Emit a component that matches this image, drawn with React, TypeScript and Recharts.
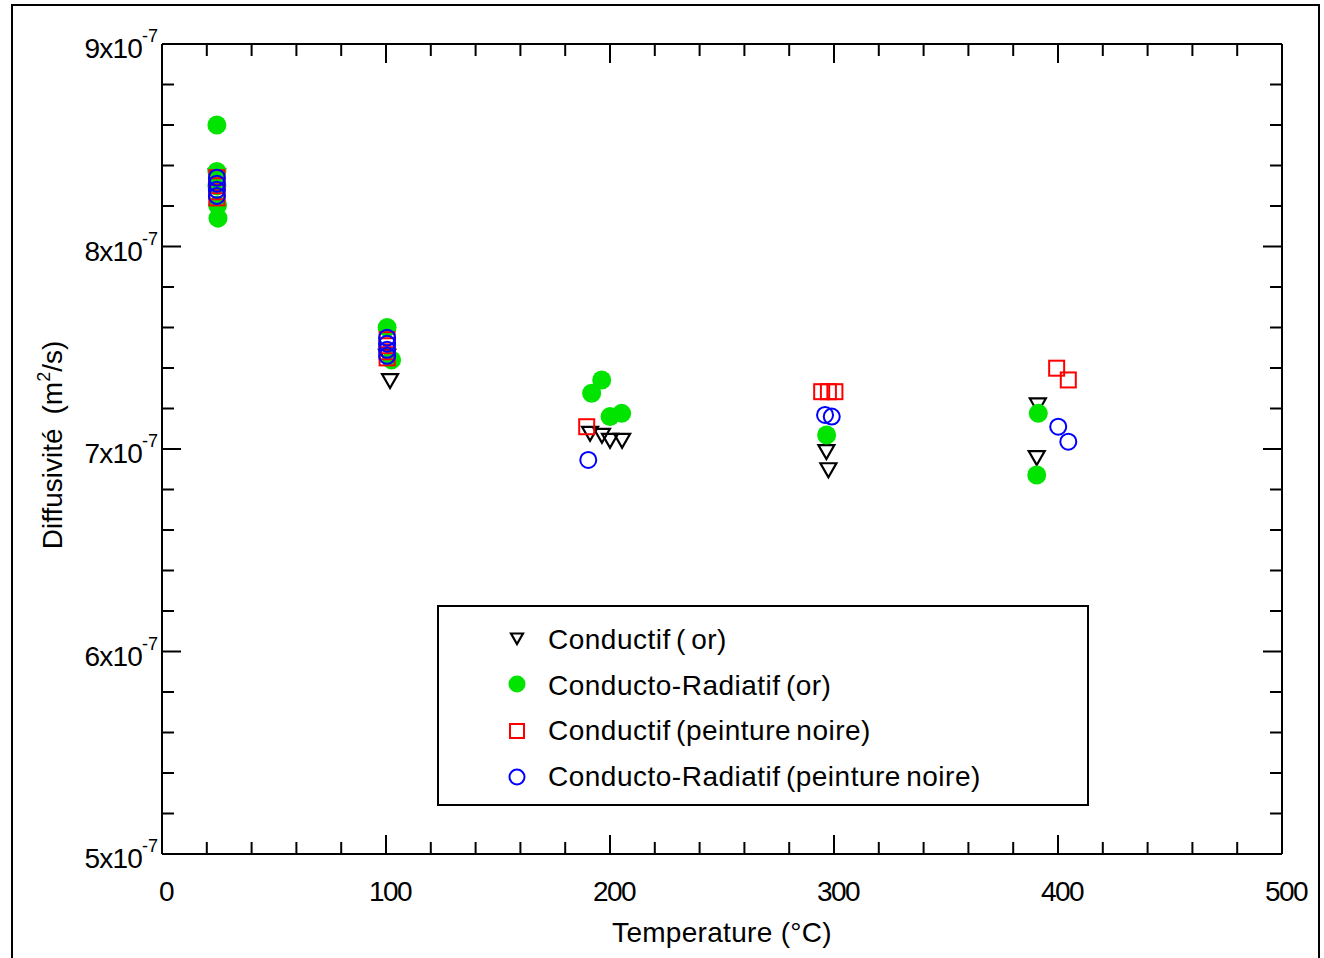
import React from 'react';
import { ScatterChart, Scatter, XAxis, YAxis, Legend } from 'recharts';

// diffusivity values are in units of 1e-7 m2/s
const condOrT = [24.5, 100.5, 101.8, 191.1, 196.4, 200.0, 205.4, 296.6, 297.5, 390.5, 391.0];
const condOrD = [8.35, 7.46, 7.34, 7.08, 7.07, 7.045, 7.045, 6.99, 6.9, 6.96, 7.22];

const radOrT = [24.5, 24.5, 24.5, 24.8, 25.0, 100.5, 102.5, 191.8, 196.3, 200.0, 205.2, 296.7, 391.2, 390.5];
const radOrD = [8.6, 8.37, 8.3, 8.205, 8.14, 7.6, 7.44, 7.275, 7.341, 7.16, 7.176, 7.069, 7.176, 6.872];

const condNoirT = [24.5, 24.5, 24.5, 24.5, 100.5, 100.5, 100.5, 100.5, 189.6, 294.5, 297.5, 300.4, 399.4, 404.6];
const condNoirD = [8.34, 8.3, 8.27, 8.24, 7.54, 7.51, 7.48, 7.45, 7.11, 7.283, 7.283, 7.283, 7.399, 7.341];

const radNoirT = [24.5, 24.5, 24.5, 24.5, 100.5, 100.5, 100.5, 100.5, 190.3, 296.0, 299.0, 400.1, 404.6];
const radNoirD = [8.34, 8.31, 8.28, 8.25, 7.55, 7.52, 7.49, 7.46, 6.946, 7.168, 7.16, 7.11, 7.036];

const xTicks = [0, 20, 40, 60, 80, 100, 120, 140, 160, 180, 200, 220, 240, 260, 280, 300, 320, 340, 360, 380, 400, 420, 440, 460, 480, 500];
const yTicks = [5, 5.2, 5.4, 5.6, 5.8, 6, 6.2, 6.4, 6.6, 6.8, 7, 7.2, 7.4, 7.6, 7.8, 8, 8.2, 8.4, 8.6, 8.8, 9];

const FONT = '"Liberation Sans", Arial, sans-serif';

const toPoints = (t: number[], d: number[]) => t.map((v, i) => ({ t: v, d: d[i] }));

const TriangleDown = (p: any) => {
  const s = p.small ? 0.75 : 1;
  const { cx, cy } = p;
  return (
    <path
      d={`M${cx - 8 * s},${cy - 6 * s} L${cx + 8 * s},${cy - 6 * s} L${cx},${cy + 8 * s} Z`}
      fill="none"
      stroke="#000"
      strokeWidth={2.2}
      strokeLinejoin="miter"
    />
  );
};
const GreenDot = (p: any) => <circle cx={p.cx} cy={p.cy} r={p.small ? 8.5 : 9.5} fill="#00e400" />;
const RedSquare = (p: any) => {
  const h = p.small ? 7 : 7.5;
  return <rect x={p.cx - h} y={p.cy - h} width={h * 2} height={h * 2} fill="none" stroke="#ff0000" strokeWidth={2} />;
};
const BlueRing = (p: any) => <circle cx={p.cx} cy={p.cy} r={p.small ? 7.5 : 8} fill="none" stroke="#0000ff" strokeWidth={2} />;
const NoMark = () => <g />;

const series = [
  { name: 'Conductif ( or)', data: toPoints(condOrT, condOrD), shape: TriangleDown },
  { name: 'Conducto-Radiatif (or)', data: toPoints(radOrT, radOrD), shape: GreenDot },
  { name: 'Conductif (peinture noire)', data: toPoints(condNoirT, condNoirD), shape: RedSquare },
  { name: 'Conducto-Radiatif (peinture noire)', data: toPoints(radNoirT, radNoirD), shape: BlueRing },
];

const XTick = (props: any) => {
  const { x, y, payload, side } = props;
  const v = payload.value;
  const major = v % 100 === 0;
  const len = major ? 19 : 12;
  const dir = side === 'top' ? 1 : -1;
  return (
    <g>
      {v > 0 && v < 500 && <line x1={x} x2={x} y1={y} y2={y + dir * len} stroke="#000" strokeWidth={2} />}
      {side !== 'top' && major && (
        <text x={x + 4} y={y + 47} textAnchor="middle" fontSize={28} letterSpacing={-1.5} fontFamily={FONT} fill="#000">
          {v}
        </text>
      )}
    </g>
  );
};

const YTick = (props: any) => {
  const { x, y, payload, side } = props;
  const v = Math.round(payload.value * 10) / 10;
  const major = Math.abs(v - Math.round(v)) < 0.01;
  const len = major ? 19 : 12;
  const dir = side === 'right' ? -1 : 1;
  return (
    <g>
      {v > 5 && v < 9 && <line x1={x} x2={x + dir * len} y1={y} y2={y} stroke="#000" strokeWidth={2} />}
      {side !== 'right' && major && (
        <text x={x - 4} y={y + 14} textAnchor="end" fontSize={28} letterSpacing={-0.8} fontFamily={FONT} fill="#000">
          {`${Math.round(v)}x10`}
          <tspan dy={-16} fontSize={18} letterSpacing={0}>-7</tspan>
        </text>
      )}
    </g>
  );
};

const YTitle = (props: any) => {
  const vb = props.viewBox || { x: 0, y: 44, width: 162, height: 810 };
  const cx = vb.x + 62;
  const cy = vb.y + vb.height / 2 - 4;
  return (
    <text
      x={cx}
      y={cy}
      textAnchor="middle"
      transform={`rotate(-90, ${cx}, ${cy})`}
      fontSize={28}
      fontFamily={FONT}
      fill="#000"
    >
      Diffusivité
      <tspan dx={14}>(m</tspan>
      <tspan dy={-12} fontSize={18}>2</tspan>
      <tspan dy={12}>/s)</tspan>
    </text>
  );
};

const LegendBox = () => {
  const rowY = [33, 79, 124, 170];
  return (
    <svg width={652} height={201} style={{ display: 'block' }}>
      <rect x={1} y={1} width={650} height={199} fill="#fff" stroke="#000" strokeWidth={2} />
      {series.map((s, i) => {
        const Shape = s.shape;
        return (
          <g key={s.name}>
            <Shape cx={80} cy={rowY[i] + (i > 1 ? 2 : 0)} small />
            <text x={111} y={rowY[i] + 11} fontSize={28} fontFamily={FONT} letterSpacing={0.5} wordSpacing={-3} fill="#000">
              {s.name}
            </text>
          </g>
        );
      })}
    </svg>
  );
};

export default function App() {
  return (
    <div style={{ position: 'absolute', left: 0, top: 0, width: 1324, height: 958, background: '#fff' }}>
      <div
        style={{
          position: 'absolute',
          left: 11,
          top: 4,
          width: 1305,
          height: 952,
          borderLeft: '2px solid #000',
          borderTop: '2px solid #000',
          borderRight: '2px solid #000',
        }}
      />
      <ScatterChart width={1324} height={958} margin={{ top: 0, right: 0, bottom: 0, left: 0 }}>
        <XAxis
          xAxisId="bottom"
          dataKey="t"
          type="number"
          domain={[0, 500]}
          ticks={xTicks}
          interval={0}
          height={104}
          orientation="bottom"
          axisLine={{ stroke: '#000', strokeWidth: 2 }}
          tickLine={false}
          tickSize={0}
          tickMargin={0}
          tick={<XTick side="bottom" />}
          label={{ value: 'Temperature (°C)', position: 'insideBottom', offset: 16, fontSize: 28, letterSpacing: 0.3, fontFamily: FONT, fill: '#000' }}
        />
        <XAxis
          xAxisId="top"
          dataKey="t"
          type="number"
          domain={[0, 500]}
          ticks={xTicks}
          interval={0}
          height={44}
          orientation="top"
          axisLine={{ stroke: '#000', strokeWidth: 2 }}
          tickLine={false}
          tickSize={0}
          tickMargin={0}
          tick={<XTick side="top" />}
        />
        <YAxis
          yAxisId="left"
          dataKey="d"
          type="number"
          domain={[5, 9]}
          ticks={yTicks}
          interval={0}
          width={162}
          orientation="left"
          axisLine={{ stroke: '#000', strokeWidth: 2 }}
          tickLine={false}
          tickSize={0}
          tickMargin={0}
          tick={<YTick side="left" />}
          label={{ content: <YTitle /> }}
        />
        <YAxis
          yAxisId="right"
          dataKey="d"
          type="number"
          domain={[5, 9]}
          ticks={yTicks}
          interval={0}
          width={42}
          orientation="right"
          axisLine={{ stroke: '#000', strokeWidth: 2 }}
          tickLine={false}
          tickSize={0}
          tickMargin={0}
          tick={<YTick side="right" />}
        />
        <Legend
          layout="horizontal"
          verticalAlign="middle"
          align="center"
          wrapperStyle={{ left: 437, top: 605, width: 652, height: 201 }}
          content={<LegendBox />}
        />
        {/* carries the mirrored top/right axes, draws nothing */}
        <Scatter
          name="mirror"
          data={series[1].data}
          xAxisId="top"
          yAxisId="right"
          shape={NoMark}
          legendType="none"
          isAnimationActive={false}
        />
        {series.map((s) => (
          <Scatter
            key={s.name}
            name={s.name}
            data={s.data}
            xAxisId="bottom"
            yAxisId="left"
            shape={s.shape}
            isAnimationActive={false}
          />
        ))}
      </ScatterChart>
    </div>
  );
}
